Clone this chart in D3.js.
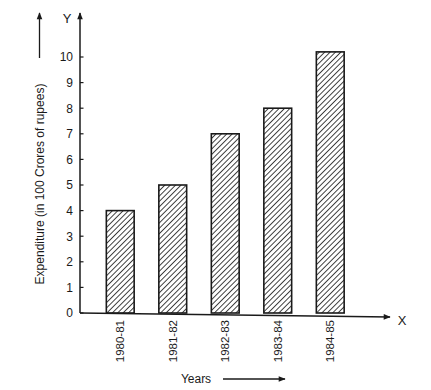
<!DOCTYPE html>
<html>
<head>
<meta charset="utf-8">
<script src="https://cdn.jsdelivr.net/npm/d3@7"></script>
<style>
  html, body { margin: 0; padding: 0; background: #fff; }
  svg { display: block; font-family: 'Liberation Sans', Arial, sans-serif; }
</style>
</head>
<body>
<svg id="chart" width="431" height="390"></svg>
<script>
// ── DATA ──────────────────────────────────────────────────────────────────────
const years = ['1980-81', '1981-82', '1982-83', '1983-84', '1984-85'];
const expenditure = [4, 5, 7, 8, 10.2];
const yTicks = [0, 1, 2, 3, 4, 5, 6, 7, 8, 9, 10];

const svg = d3.select('#chart');

// ── SCALES ────────────────────────────────────────────────────────────────────
const x = d3.scaleBand()
  .domain(years)
  .range([94, 356.5])
  .paddingInner(0.47)
  .paddingOuter(0.235);

const y = d3.scaleLinear().domain([0, 10]).range([313, 57]);

const axisX = 80;
const ink = '#1a1a1a';

// ── DEFS: hatch + arrows ──────────────────────────────────────────────────────
const defs = svg.append('defs');

const hatch = defs.append('pattern')
  .attr('id', 'hatch')
  .attr('patternUnits', 'userSpaceOnUse')
  .attr('width', 3.8).attr('height', 3.8)
  .attr('patternTransform', 'rotate(45)');
hatch.append('rect').attr('width', 3.8).attr('height', 3.8).attr('fill', '#fff');
hatch.append('line')
  .attr('x1', 0).attr('y1', 0).attr('x2', 0).attr('y2', 3.8)
  .attr('stroke', '#222').attr('stroke-width', 1.7);

defs.append('marker')
  .attr('id', 'arrow')
  .attr('viewBox', '0 0 10 10')
  .attr('refX', 9).attr('refY', 5)
  .attr('markerWidth', 9).attr('markerHeight', 7)
  .attr('markerUnits', 'userSpaceOnUse')
  .attr('orient', 'auto')
  .append('path')
  .attr('d', 'M0,1 L10,5 L0,9 Z')
  .attr('fill', ink);

// ── BARS ──────────────────────────────────────────────────────────────────────
svg.append('g')
  .selectAll('rect')
  .data(years)
  .join('rect')
  .attr('x', d => x(d))
  .attr('y', (d, i) => y(expenditure[i]))
  .attr('width', x.bandwidth())
  .attr('height', (d, i) => y(0) - y(expenditure[i]))
  .attr('fill', 'url(#hatch)')
  .attr('stroke', ink)
  .attr('stroke-width', 1.6);

// ── Y AXIS ────────────────────────────────────────────────────────────────────
svg.append('line')
  .attr('x1', axisX).attr('y1', y(0))
  .attr('x2', axisX).attr('y2', 13)
  .attr('stroke', ink).attr('stroke-width', 1.5)
  .attr('marker-end', 'url(#arrow)');

const yt = svg.append('g').selectAll('g')
  .data(yTicks)
  .join('g')
  .attr('transform', d => `translate(0,${y(d)})`);
yt.append('line')
  .attr('x1', axisX).attr('x2', axisX + 3.5)
  .attr('stroke', ink).attr('stroke-width', 1.2);
yt.append('text')
  .attr('x', 73)
  .attr('dy', '0.36em')
  .attr('text-anchor', 'end')
  .attr('font-size', 12)
  .attr('fill', ink)
  .text(d => d);

svg.append('text')
  .attr('x', 67).attr('y', 23)
  .attr('text-anchor', 'middle')
  .attr('font-size', 13)
  .attr('fill', ink)
  .text('Y');

// y title + arrow
svg.append('text')
  .attr('transform', 'translate(44,184) rotate(-90)')
  .attr('text-anchor', 'middle')
  .attr('font-size', 12)
  .attr('fill', ink)
  .text('Expenditure (in 100 Crores of rupees)');

svg.append('line')
  .attr('x1', 39.5).attr('y1', 58)
  .attr('x2', 39.5).attr('y2', 13)
  .attr('stroke', ink).attr('stroke-width', 1.3)
  .attr('marker-end', 'url(#arrow)');

// ── X AXIS ────────────────────────────────────────────────────────────────────
svg.append('line')
  .attr('x1', axisX).attr('y1', y(0))
  .attr('x2', 390).attr('y2', 317)
  .attr('stroke', ink).attr('stroke-width', 1.5)
  .attr('marker-end', 'url(#arrow)');

svg.append('text')
  .attr('x', 402).attr('y', 325)
  .attr('text-anchor', 'middle')
  .attr('font-size', 13)
  .attr('fill', ink)
  .text('X');

svg.append('g').selectAll('text')
  .data(years)
  .join('text')
  .attr('transform', d => `translate(${x(d) + x.bandwidth() / 2 + 4},320) rotate(-90)`)
  .attr('text-anchor', 'end')
  .attr('font-size', 11.5)
  .attr('fill', ink)
  .text(d => d);

svg.append('text')
  .attr('x', 196).attr('y', 383)
  .attr('text-anchor', 'middle')
  .attr('font-size', 12)
  .attr('fill', ink)
  .text('Years');

svg.append('line')
  .attr('x1', 223).attr('y1', 379)
  .attr('x2', 285).attr('y2', 379)
  .attr('stroke', ink).attr('stroke-width', 1.3)
  .attr('marker-end', 'url(#arrow)');
</script>
</body>
</html>
